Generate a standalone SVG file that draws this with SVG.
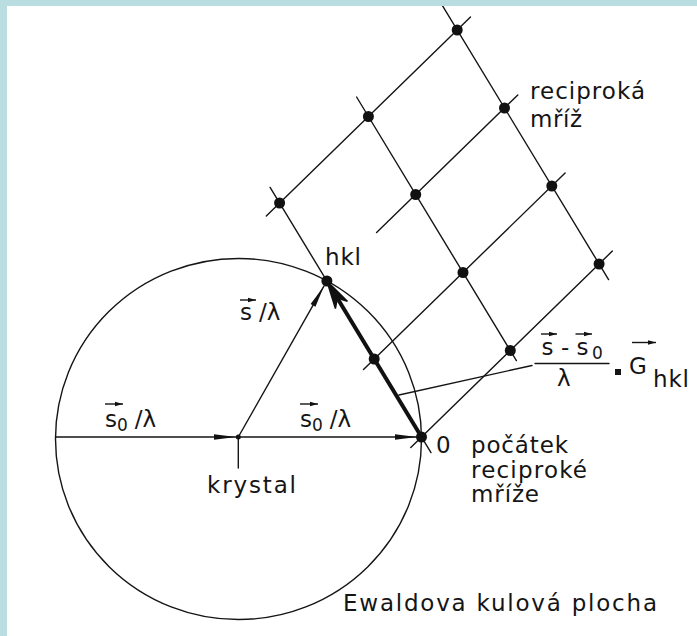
<svg xmlns="http://www.w3.org/2000/svg" width="697" height="636" viewBox="0 0 697 636">
<defs>
<style>
.ln{stroke:#151515;stroke-width:1.4;fill:none;stroke-linecap:round}
.dot{fill:#111}
.t{font-family:"DejaVu Sans",sans-serif;font-size:23px;fill:#151515}
.sub{font-size:17px}
.ov{stroke:#151515;stroke-width:1.4;fill:none}
</style>
<marker id="head" markerUnits="userSpaceOnUse" markerWidth="26" markerHeight="10" viewBox="-24 -5 26 10" refX="0" refY="0" orient="auto">
<path d="M0,0 L-22,-2.8 L-22,2.8 Z" fill="#111"/>
</marker>
<marker id="sm" markerUnits="userSpaceOnUse" markerWidth="10" markerHeight="6" viewBox="-9 -3 10 6" refX="0" refY="0" orient="auto">
<path d="M0,0 L-8,-2.3 L-8,2.3 Z" fill="#111"/>
</marker>
</defs>
<rect x="0" y="0" width="697" height="636" fill="#ffffff"/>

<g id="ewald-sphere">
<ellipse cx="238.5" cy="439" rx="183" ry="180.5" class="ln" stroke-width="1.3"/>
</g>

<g id="reciprocal-lattice">
<line class="ln" x1="410.8" y1="447.4" x2="612.4" y2="251"/>
<line class="ln" x1="363.5" y1="369.4" x2="565.1" y2="173"/>
<line class="ln" x1="376.6" y1="232.6" x2="517.8" y2="95"/>
<line class="ln" x1="266.3" y1="216" x2="470.5" y2="17"/>
<line class="ln" x1="431" y1="452.6" x2="270.1" y2="187.4"/>
<line class="ln" x1="516.4" y1="360.6" x2="356.6" y2="97"/>
<line class="ln" x1="608.6" y1="279.6" x2="438.3" y2="-1.2"/>
<circle class="dot" cx="374.2" cy="359" r="5.5"/>
<circle class="dot" cx="279.6" cy="203" r="5.5"/>
<circle class="dot" cx="510.3" cy="350.5" r="5.5"/>
<circle class="dot" cx="463" cy="272.5" r="5.5"/>
<circle class="dot" cx="415.7" cy="194.5" r="5.5"/>
<circle class="dot" cx="368.4" cy="116.5" r="5.5"/>
<circle class="dot" cx="599.1" cy="264" r="5.5"/>
<circle class="dot" cx="551.8" cy="186" r="5.5"/>
<circle class="dot" cx="504.5" cy="108" r="5.5"/>
<circle class="dot" cx="457.2" cy="30" r="5.5"/>
</g>

<g id="hkl">
<circle class="dot" cx="326.9" cy="281" r="5.5"/>
<text class="t" x="325" y="265" textLength="36">hkl</text>
</g>

<g id="origin">
<circle class="dot" cx="421.5" cy="437" r="5.5"/>
<text class="t" x="436" y="453">0</text>
<text class="t" x="471" y="453" font-size="21" textLength="97">počátek</text>
<text class="t" x="471" y="478" font-size="21" textLength="116">reciproké</text>
<text class="t" x="471" y="502" font-size="21" textLength="68">mříže</text>
</g>

<g id="crystal">
<circle class="dot" cx="238.3" cy="437" r="2.5"/>
<line class="ln" x1="238.3" y1="437" x2="238.3" y2="468"/>
<text class="t" x="207" y="493" textLength="89">krystal</text>
</g>

<g id="connectors">
<line class="ln" x1="55.5" y1="437" x2="236" y2="437" marker-end="url(#head)"/>
<line class="ln" x1="238.3" y1="437" x2="417" y2="437" marker-end="url(#head)"/>
<line class="ln" x1="238.3" y1="437" x2="323.9" y2="286.2" marker-end="url(#head)"/>
<line x1="421.5" y1="437" x2="336" y2="296" stroke="#111" stroke-width="4"/>
<polygon points="326.9,281 347.4,301.3 337.3,298.1 335.4,308.6" fill="#111" stroke="#111" stroke-width="1.5" stroke-linejoin="miter"/>
<line class="ln" x1="399" y1="395" x2="532" y2="365.5" stroke-width="1.3"/>
</g>

<g id="label-s0-left">
<text class="t" x="105" y="427">s<tspan class="sub" dy="4">0</tspan><tspan dy="-4" dx="7">/λ</tspan></text>
<line class="ov" x1="105" y1="404" x2="123" y2="404" marker-end="url(#sm)"/>
</g>
<g id="label-s0-right">
<text class="t" x="300" y="427">s<tspan class="sub" dy="4">0</tspan><tspan dy="-4" dx="7">/λ</tspan></text>
<line class="ov" x1="300" y1="404" x2="318" y2="404" marker-end="url(#sm)"/>
</g>
<g id="label-s">
<text class="t" x="240" y="320">s<tspan dx="7">/λ</tspan></text>
<line class="ov" x1="240" y1="300" x2="256" y2="300" marker-end="url(#sm)"/>
</g>

<g id="label-G">
<text class="t" x="541.5" y="355">s</text>
<text class="t" x="561" y="355">-</text>
<text class="t" x="576.5" y="355">s</text>
<text class="t sub" x="592" y="359">0</text>
<line class="ov" x1="541" y1="334" x2="557" y2="334" marker-end="url(#sm)"/>
<line class="ov" x1="575.5" y1="334" x2="592" y2="334" marker-end="url(#sm)"/>
<line class="ln" x1="535" y1="363.5" x2="609" y2="363.5" stroke-width="1.6"/>
<text class="t" x="557" y="386">λ</text>
<rect x="615" y="369" width="6" height="6" fill="#151515"/>
<text class="t" x="629" y="374">G</text>
<text class="t" x="653" y="387" font-size="19" textLength="36">hkl</text>
<line class="ov" x1="632" y1="342.5" x2="656" y2="342.5" marker-end="url(#sm)"/>
</g>

<g id="label-lattice">
<text class="t" x="530" y="99" textLength="115">reciproká</text>
<text class="t" x="530" y="127" textLength="52">mříž</text>
</g>

<g id="label-sphere">
<text class="t" x="343" y="611" textLength="314">Ewaldova kulová plocha</text>
</g>

<g id="frame">
<rect x="0" y="0" width="697" height="6" fill="#b9dde1"/>
<rect x="0" y="0" width="7" height="636" fill="#b9dde1"/>
</g>
</svg>
